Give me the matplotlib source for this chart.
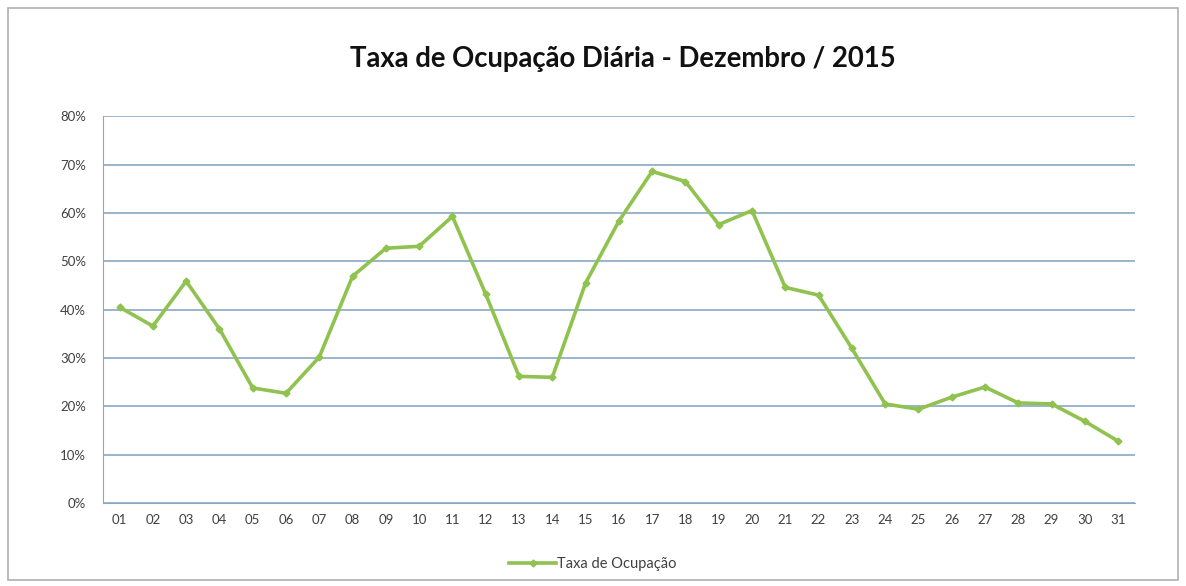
import matplotlib.pyplot as plt
from matplotlib.patches import Rectangle
from matplotlib.ticker import FuncFormatter

# Daily occupancy, December 2015
dias = ["%02d" % d for d in range(1, 32)]
ocupacao = [40.5, 36.6, 45.9, 36.0, 23.8, 22.7, 30.2, 46.9, 52.7, 53.1,
            59.3, 43.2, 26.2, 26.0, 45.5, 58.3, 68.6, 66.5, 57.6, 60.5,
            44.6, 43.0, 32.0, 20.5, 19.4, 21.9, 24.0, 20.7, 20.5, 16.9, 12.8]
yticks = [0, 10, 20, 30, 40, 50, 60, 70, 80]

plt.rcParams['font.family'] = ['Lato', 'DejaVu Sans']

fig = plt.figure(figsize=(11.86, 5.86), dpi=100)
ax = fig.add_axes([0.0868, 0.1416, 0.870, 0.660])

# outer chart border
fig.patches.append(Rectangle((0.007, 0.01), 0.986, 0.976, transform=fig.transFigure,
                             fill=False, edgecolor='#b0b0b0', linewidth=1.2))

x = list(range(1, len(dias) + 1))
ax.plot(x, ocupacao, color='#8fc24f', linewidth=2.6, marker='D', markersize=3.5,
        label='Taxa de Ocupação')

ax.set_xlim(0.5, 31.5)
ax.set_ylim(0, 80)
ax.set_yticks(yticks)
ax.yaxis.set_major_formatter(FuncFormatter(lambda v, p: "%d%%" % v))
ax.set_xticks(x)
ax.set_xticklabels(dias)
ax.grid(axis='y', color='#8aa7c6', linewidth=1.2)
ax.set_axisbelow(True)

for s in ['top', 'right']:
    ax.spines[s].set_visible(False)
ax.spines['left'].set_color('#8aa7c6')
ax.spines['bottom'].set_color('#8aa7c6')
ax.tick_params(axis='both', length=0, labelsize=9.5, colors='#404040', pad=8)
ax.tick_params(axis='y', pad=12)

fig.text(0.525, 0.90, 'Taxa de Ocupação Diária - Dezembro / 2015', ha='center', va='center',
         fontsize=19.8, fontweight='bold', color='#111111')

ax.legend(loc='upper center', bbox_to_anchor=(0.475, -0.105), frameon=False, fontsize=10.5,
          handlelength=3.2, handletextpad=0.1, labelcolor='#404040')

fig.savefig('out.png', dpi=100)
